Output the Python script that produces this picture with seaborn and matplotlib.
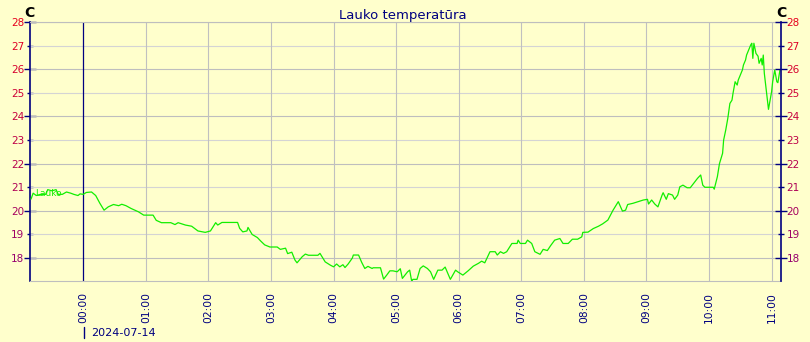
import matplotlib
matplotlib.use("Agg")
import matplotlib.pyplot as plt
import seaborn as sns
import pandas as pd
import numpy as np

# minutes relative to 2024-07-14 00:00
minutes = [-50, -48, -45, -41, -36, -34, -30, -26, -24, -20, -16, -12, -9, -5, -3, 0,
           3, 8, 12, 16, 20, 24, 29, 34, 37, 41, 46, 53, 58, 67, 70, 75, 84, 88, 91, 98,
           104, 110, 117, 122, 127, 129, 133, 148, 150, 153, 157, 158, 162, 167, 170, 174,
           179, 186, 189, 194, 196, 200, 203, 205, 210, 213, 216, 225, 227, 232, 237, 240,
           243, 246, 249, 251, 254, 258, 259, 264, 267, 270, 273, 277, 278, 285, 288, 291,
           294, 297, 301, 304, 306, 311, 313, 315, 316, 320, 323, 326, 330, 333, 336, 340,
           344, 347, 352, 357, 359, 364, 369, 374, 379, 382, 385, 390, 395, 397, 400, 403,
           406, 409, 411, 416, 417, 419, 424, 426, 430, 433, 438, 441, 445, 448, 452, 457,
           460, 465, 469, 474, 478, 479, 484, 489, 494, 498, 503, 508, 513, 517, 520, 522,
           527, 537, 541, 542, 545, 548, 551, 555, 556, 559, 561, 565, 567, 570, 572, 575,
           579, 582, 585, 589, 592, 594, 596, 604, 605, 608, 610, 613, 614, 616, 618, 620,
           622, 623, 625, 627, 628, 630, 632, 633, 635, 636, 638, 640, 641, 642, 643, 645,
           647, 648, 650, 651, 652, 653, 655, 656, 657, 658, 660, 661, 663, 665, 666, 668]
temps = [20.5, 20.75, 20.65, 20.7, 20.7, 20.9, 20.85, 20.9, 20.7, 20.7, 20.8, 20.75, 20.7, 20.65, 20.72, 20.7,
         20.78, 20.8, 20.65, 20.32, 20.03, 20.17, 20.27, 20.22, 20.28, 20.22, 20.1, 19.96, 19.82, 19.82, 19.6, 19.5, 19.5, 19.42, 19.5, 19.4,
         19.35, 19.15, 19.09, 19.15, 19.5, 19.4, 19.51, 19.51, 19.26, 19.11, 19.15, 19.3, 19.0, 18.87, 18.73, 18.56,
         18.47, 18.47, 18.37, 18.42, 18.19, 18.25, 17.92, 17.8, 18.06, 18.17, 18.12, 18.12, 18.2, 17.84, 17.7, 17.63,
         17.75, 17.63, 17.72, 17.6, 17.75, 18.0, 18.13, 18.13, 17.82, 17.56, 17.65, 17.56, 17.59, 17.59, 17.11, 17.28,
         17.46, 17.46, 17.42, 17.55, 17.14, 17.42, 17.49, 17.0, 17.1, 17.1, 17.56, 17.67, 17.56, 17.42, 17.1, 17.49,
         17.49, 17.62, 17.1, 17.49, 17.42, 17.28, 17.46, 17.66, 17.78, 17.87, 17.8, 18.27, 18.27, 18.13, 18.27, 18.2,
         18.27, 18.48, 18.62, 18.62, 18.76, 18.62, 18.62, 18.76, 18.62, 18.27, 18.16, 18.37, 18.32, 18.52, 18.76, 18.83,
         18.62, 18.62, 18.8, 18.8, 18.9, 19.09, 19.1, 19.25, 19.35, 19.45, 19.61, 20.03, 20.39, 19.99, 20.03, 20.27,
         20.32, 20.46, 20.49, 20.29, 20.46, 20.29, 20.17, 20.67, 20.77, 20.49, 20.73, 20.67, 20.49, 20.67, 21.02, 21.09,
         20.98, 20.98, 21.15, 21.38, 21.52, 21.09, 21.0, 21.0, 20.92, 21.45, 22.0, 22.44, 23.0, 23.42, 23.92, 24.55,
         24.69, 24.98, 25.47, 25.33, 25.54, 25.75, 25.97, 26.18, 26.39, 26.6, 26.81, 27.03, 27.1, 26.46, 27.1, 26.67,
         26.55, 26.25, 26.46, 26.18, 26.6, 25.83, 25.05, 24.69, 24.3, 24.55, 25.05, 25.47, 25.97, 25.47, 25.43, 25.97]

hours = list(range(0, 12))
hour_labels = ["%02d:00" % h for h in hours]
y_ticks = list(range(18, 29))
title = "Lauko temperatūra"
date_label = "2024-07-14"
unit = "C"
series_name = "Lauko"

BG = "#ffffcc"
NAVY = "#000080"
GREEN = "#11ee00"

sns.set_style("white")
plt.rcParams["font.family"] = ["DejaVu Sans"]

df = pd.DataFrame({"min": minutes, "temp": temps})

fig = plt.figure(figsize=(8.1, 3.42), dpi=100, facecolor=BG)
ax = fig.add_axes([30 / 810, 1 - 281 / 342, (781 - 30) / 810, (281 - 22) / 342])
ax.set_facecolor(BG)

# grid
for v in y_ticks:
    ax.axhline(v, color="#bebebe" if v % 2 == 0 else "#d4d4d4", lw=0.8, zorder=1)
for h in hours:
    if h == 0:
        ax.axvline(h * 60, color=NAVY, lw=0.9, zorder=2)
    else:
        ax.axvline(h * 60, color="#c0c0c0", lw=0.8, zorder=1)

sns.lineplot(data=df, x="min", y="temp", ax=ax, color=GREEN, lw=0.9, sort=False,
             zorder=3, estimator=None)
ax.text(-46, 20.63, series_name, color=GREEN, fontsize=6.5, zorder=2, va="baseline")

ax.set_xlim(-51, 669)
ax.set_ylim(17.03, 28)
ax.set_xlabel("")
ax.set_ylabel("")

ax.set_xticks([h * 60 for h in hours])
ax.set_xticklabels(hour_labels, rotation=90, color=NAVY, fontsize=7.7)
ax.tick_params(axis="x", length=2, color=NAVY, pad=6)

def ycolor(v):
    f = (v - 18) / 10.0
    r = int(150 + (230 - 150) * f)
    b = int(110 * (1 - f) + 30 * f)
    return "#%02x00%02x" % (r, b)

ax2 = ax.twinx()
ax2.set_ylim(ax.get_ylim())
for a, side in ((ax, "left"), (ax2, "right")):
    a.set_yticks(y_ticks)
    a.set_yticks([], minor=True)
    a.set_yticklabels([str(v) for v in y_ticks], fontsize=7.5)
    for lab, v in zip(a.get_yticklabels(), y_ticks):
        lab.set_color(ycolor(v))
    a.tick_params(axis="y", direction="inout", length=4, width=1, color=NAVY, pad=2)
    for tl, v in zip(a.yaxis.get_major_ticks(), y_ticks):
        if v % 2 == 0:
            tl.tick1line.set_markersize(9)
            tl.tick2line.set_markersize(9)
    for s in a.spines.values():
        s.set_visible(False)

ax.spines["left"].set_visible(True)
ax.spines["left"].set_color(NAVY)
ax.spines["left"].set_linewidth(1.2)
ax2.spines["right"].set_visible(True)
ax2.spines["right"].set_color(NAVY)
ax2.spines["right"].set_linewidth(1.2)
ax.spines["top"].set_visible(True)
ax.spines["top"].set_color("#bebebe")
ax.spines["bottom"].set_visible(True)
ax.spines["bottom"].set_color("#bebebe")

fig.text(403 / 810, 1 - 15 / 342, title, ha="center", va="center", color=NAVY, fontsize=9.5)
fig.text(29 / 810, 1 - 13 / 342, unit, ha="center", va="center", color="black",
         fontsize=10, fontweight="bold")
fig.text(781 / 810, 1 - 13 / 342, unit, ha="center", va="center", color="black",
         fontsize=10, fontweight="bold")
fig.text(91 / 810, 1 - 333 / 342, date_label, ha="left", va="center", color=NAVY, fontsize=8)
fig.add_artist(plt.Line2D([83.5 / 810, 83.5 / 810], [1 - 338 / 342, 1 - 327 / 342],
                          color=NAVY, lw=1.0, transform=fig.transFigure))

fig.savefig("out.png", dpi=100, facecolor=BG)
